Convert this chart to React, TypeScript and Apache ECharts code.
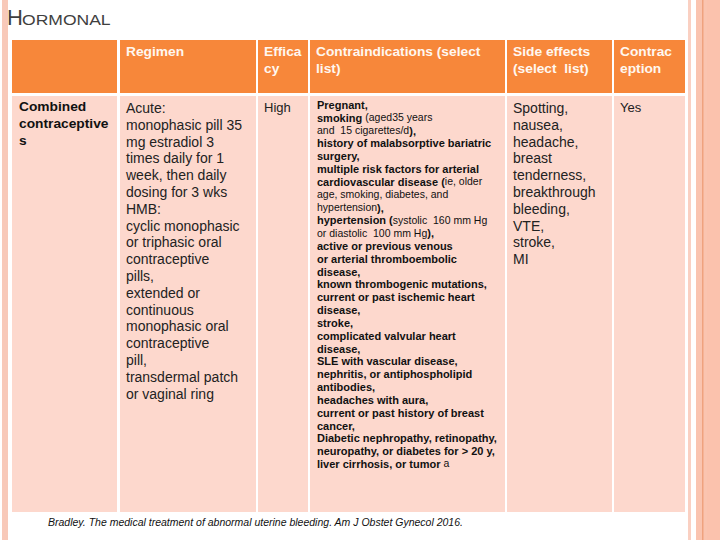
import React, { useEffect, useRef } from "react";
import * as echarts from "echarts";

// ---------- content ----------
const titleParts = ["H", "ORMONAL"];
const headerLabels: string[][] = [
  [],
  ["Regimen"],
  ["Effica", "cy"],
  ["Contraindications (select", "list)"],
  ["Side effects", "(select  list)"],
  ["Contrac", "eption"],
];
const rowLabelLines = ["Combined", "contraceptive", "s"];
const regimenLines = [
  "Acute:",
  "monophasic pill 35",
  "mg estradiol 3",
  "times daily for 1",
  "week, then daily",
  "dosing for 3 wks",
  "HMB:",
  "cyclic monophasic",
  "or triphasic oral",
  "contraceptive",
  "pills,",
  "extended or",
  "continuous",
  "monophasic oral",
  "contraceptive",
  "pill,",
  "transdermal patch",
  "or vaginal ring",
];
const efficacyLines = ["High"];
const sideEffectLines = [
  "Spotting,",
  "nausea,",
  "headache,",
  "breast",
  "tenderness,",
  "breakthrough",
  "bleeding,",
  "VTE,",
  "stroke,",
  "MI",
];
const contraceptionLines = ["Yes"];
// b = bold, s = small regular
const contraindicationLines: [string, string][][] = [
  [["b", "Pregnant,"]],
  [["b", "smoking "], ["s", "(aged35 years"]],
  [["s", "and  15 cigarettes/d"], ["b", "),"]],
  [["b", "history of malabsorptive bariatric"]],
  [["b", "surgery,"]],
  [["b", "multiple risk factors for arterial"]],
  [["b", "cardiovascular disease ("], ["s", "ie, older"]],
  [["s", "age, smoking, diabetes, and"]],
  [["s", "hypertension"], ["b", "),"]],
  [["b", "hypertension ("], ["s", "systolic  160 mm Hg"]],
  [["s", "or diastolic  100 mm Hg"], ["b", "),"]],
  [["b", "active or previous venous"]],
  [["b", "or arterial thromboembolic"]],
  [["b", "disease,"]],
  [["b", "known thrombogenic mutations,"]],
  [["b", "current or past ischemic heart"]],
  [["b", "disease,"]],
  [["b", "stroke,"]],
  [["b", "complicated valvular heart"]],
  [["b", "disease,"]],
  [["b", "SLE with vascular disease,"]],
  [["b", "nephritis, or antiphospholipid"]],
  [["b", "antibodies,"]],
  [["b", "headaches with aura,"]],
  [["b", "current or past history of breast"]],
  [["b", "cancer,"]],
  [["b", "Diabetic nephropathy, retinopathy,"]],
  [["b", "neuropathy, or diabetes for > 20 y,"]],
  [["b", "liver cirrhosis, or tumor "], ["s", "a"]],
];
const citation =
  "Bradley. The medical treatment of abnormal uterine bleeding. Am J Obstet Gynecol 2016.";

// ---------- layout & style ----------
const FAMILY = "'Liberation Sans', Arial, sans-serif";
const colEdges: [number, number][] = [
  [12, 117],
  [120, 256],
  [258, 308],
  [310, 505],
  [507, 612],
  [614, 685],
];
const HEADER_Y: [number, number] = [40, 93];
const BODY_Y: [number, number] = [96, 512];
const ORANGE = "#F7873A";
const PINK = "#FDD8CD";

function buildGraphics() {
  const els: any[] = [];
  const txt = (x: number, y: number, text: string, font: string, fill: string, scaleX = 1) => ({
    type: "text",
    x,
    y,
    scaleX,
    style: {
      text,
      font,
      fill,
      textAlign: "left",
      align: "left",
      textVerticalAlign: "middle",
      verticalAlign: "middle",
    },
  });

  // background decorations
  els.push({ type: "rect", shape: { x: 0, y: 0, width: 720, height: 540 }, style: { fill: "#ffffff" } });
  els.push({ type: "rect", shape: { x: 2, y: 0, width: 6, height: 540 }, style: { fill: "#F8C9B9" } });
  els.push({ type: "rect", shape: { x: 688, y: 0, width: 3, height: 540 }, style: { fill: "#FAD0C2" } });
  els.push({ type: "rect", shape: { x: 696, y: 0, width: 24, height: 540 }, style: { fill: "#FAC4B0" } });
  els.push({ type: "rect", shape: { x: 702, y: 0, width: 1.5, height: 540 }, style: { fill: "#EFA27F" } });
  els.push({ type: "rect", shape: { x: 707, y: 0, width: 13, height: 540 }, style: { fill: "#FBC2AD" } });

  // title
  els.push(txt(7, 17, titleParts[0], `22px ${FAMILY}`, "#3F3F3F"));
  els.push(txt(22, 19.5, titleParts[1], `14.5px ${FAMILY}`, "#3F3F3F", 1.21));

  // cells
  colEdges.forEach(([x0, x1]) => {
    els.push({ type: "rect", shape: { x: x0, y: HEADER_Y[0], width: x1 - x0, height: HEADER_Y[1] - HEADER_Y[0] }, style: { fill: ORANGE } });
    els.push({ type: "rect", shape: { x: x0, y: BODY_Y[0], width: x1 - x0, height: BODY_Y[1] - BODY_Y[0] }, style: { fill: PINK } });
  });

  // header labels
  headerLabels.forEach((lines, ci) => {
    lines.forEach((l, li) => {
      els.push(txt(colEdges[ci][0] + 6, 52 + li * 16.5, l, `bold 13px ${FAMILY}`, "#FFF7F0", 1.06));
    });
  });

  const plainCol = (ci: number, lines: string[], font: string, fill: string, dx = 6, y0 = 108, lh = 16.8, sx = 1) => {
    lines.forEach((l, li) => els.push(txt(colEdges[ci][0] + dx, y0 + li * lh, l, font, fill, sx)));
  };
  plainCol(0, rowLabelLines, `bold 13px ${FAMILY}`, "#111111", 7, 107, 16.7, 1.06);
  plainCol(1, regimenLines, `14px ${FAMILY}`, "#222222");
  plainCol(2, efficacyLines, `13px ${FAMILY}`, "#222222", 6, 107);
  plainCol(4, sideEffectLines, `14px ${FAMILY}`, "#222222");
  plainCol(5, contraceptionLines, `13px ${FAMILY}`, "#222222", 6, 107);

  // contraindications: mixed fragments
  const canvas = document.createElement("canvas");
  const ctx = canvas.getContext("2d")!;
  const styles: Record<string, { font: string; scale: number }> = {
    b: { font: `bold 11px ${FAMILY}`, scale: 1.0 },
    s: { font: `10px ${FAMILY}`, scale: 1.05 },
  };
  const cx0 = colEdges[3][0] + 7;
  contraindicationLines.forEach((line, li) => {
    let x = cx0;
    const y = 105 + li * 12.82;
    line.forEach(([kind, t]) => {
      const st = styles[kind];
      ctx.font = st.font;
      const w = ctx.measureText(t).width * st.scale;
      els.push(txt(x, y, t, st.font, "#111111", st.scale));
      x += w;
    });
  });

  // citation
  els.push(txt(48, 522, citation, `italic 10.5px ${FAMILY}`, "#111111"));

  return els;
}

export default function App() {
  const ref = useRef<HTMLDivElement>(null);
  useEffect(() => {
    document.body.style.margin = "0";
    const chart = echarts.init(ref.current!, undefined, { renderer: "svg" });
    chart.setOption({
      animation: false,
      graphic: { elements: buildGraphics() },
    });
    return () => chart.dispose();
  }, []);
  return (
    <div
      ref={ref}
      style={{ position: "absolute", left: 0, top: 0, width: 720, height: 540, background: "#fff" }}
    />
  );
}
